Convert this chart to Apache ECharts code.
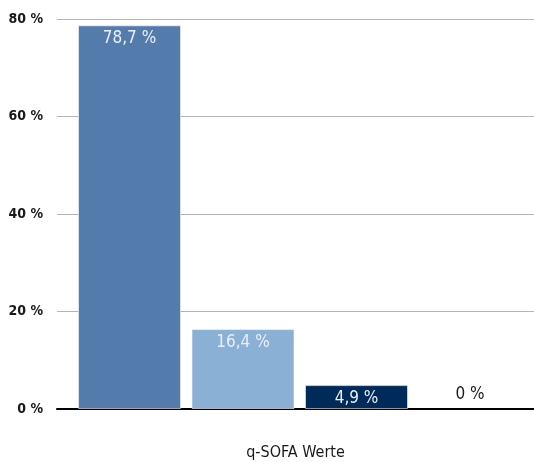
<!DOCTYPE html>
<html>
<head>
<meta charset="utf-8">
<script src="https://cdn.jsdelivr.net/npm/echarts@6/dist/echarts.min.js"></script>
<style>
    html, body { margin: 0; padding: 0; background: #fff; }
    #chart { width: 534px; height: 462px; }
</style>
</head>
<body>
<div id="chart"></div>
<script>
    // q-SOFA Werte 0..3
    var categories = ['0', '1', '2', '3'];
    var values = [78.7, 16.4, 4.9, 0];
    var labels = ['78,7 %', '16,4 %', '4,9 %', '0 %'];
    var barColors = ['#537bab', '#8bb0d5', '#002a5a', '#ffffff'];
    var yTicks = [0, 20, 40, 60, 80];

    var font = '"DejaVu Sans Condensed", "Liberation Sans Narrow", "Liberation Sans", Arial, sans-serif';

    var chart = echarts.init(document.getElementById('chart'));

    var seriesData = values.map(function (v, i) {
        var dark = v === 0;
        return {
            value: [i, v],
            itemStyle: {
                color: barColors[i],
                borderColor: dark ? 'transparent' : 'rgba(255,255,255,0.55)',
                borderWidth: 1
            },
            label: {
                show: true,
                position: dark ? 'top' : 'insideTop',
                distance: 5,
                color: dark ? '#1a1a1a' : '#e9eff6',
                formatter: labels[i]
            }
        };
    });

    chart.setOption({
        animation: false,
        backgroundColor: '#fff',
        grid: { left: 57, right: 0, top: 19, bottom: 53, outerBoundsMode: 'none' },
        xAxis: {
            type: 'value',
            min: -0.639,
            max: 3.564,
            name: 'q-SOFA Werte',
            nameLocation: 'middle',
            nameGap: 36,
            nameTextStyle: { color: '#1a1a1a', fontSize: 16, fontFamily: font },
            axisLabel: { show: false },
            axisTick: { show: false },
            splitLine: { show: false },
            axisLine: { lineStyle: { color: '#000', width: 2 } }
        },
        yAxis: {
            type: 'value',
            min: yTicks[0],
            max: yTicks[yTicks.length - 1],
            interval: 20,
            axisLine: { show: false },
            axisTick: { show: false },
            axisLabel: {
                margin: 14,
                color: '#1a1a1a',
                fontSize: 14,
                fontWeight: 'bold',
                fontFamily: font,
                formatter: function (v) { return v + ' %'; }
            },
            splitLine: { lineStyle: { color: '#b3b3b3', width: 1 } }
        },
        series: [{
            type: 'bar',
            barWidth: 103,
            label: { fontSize: 17, fontFamily: font },
            data: seriesData
        }]
    });
</script>
</body>
</html>
